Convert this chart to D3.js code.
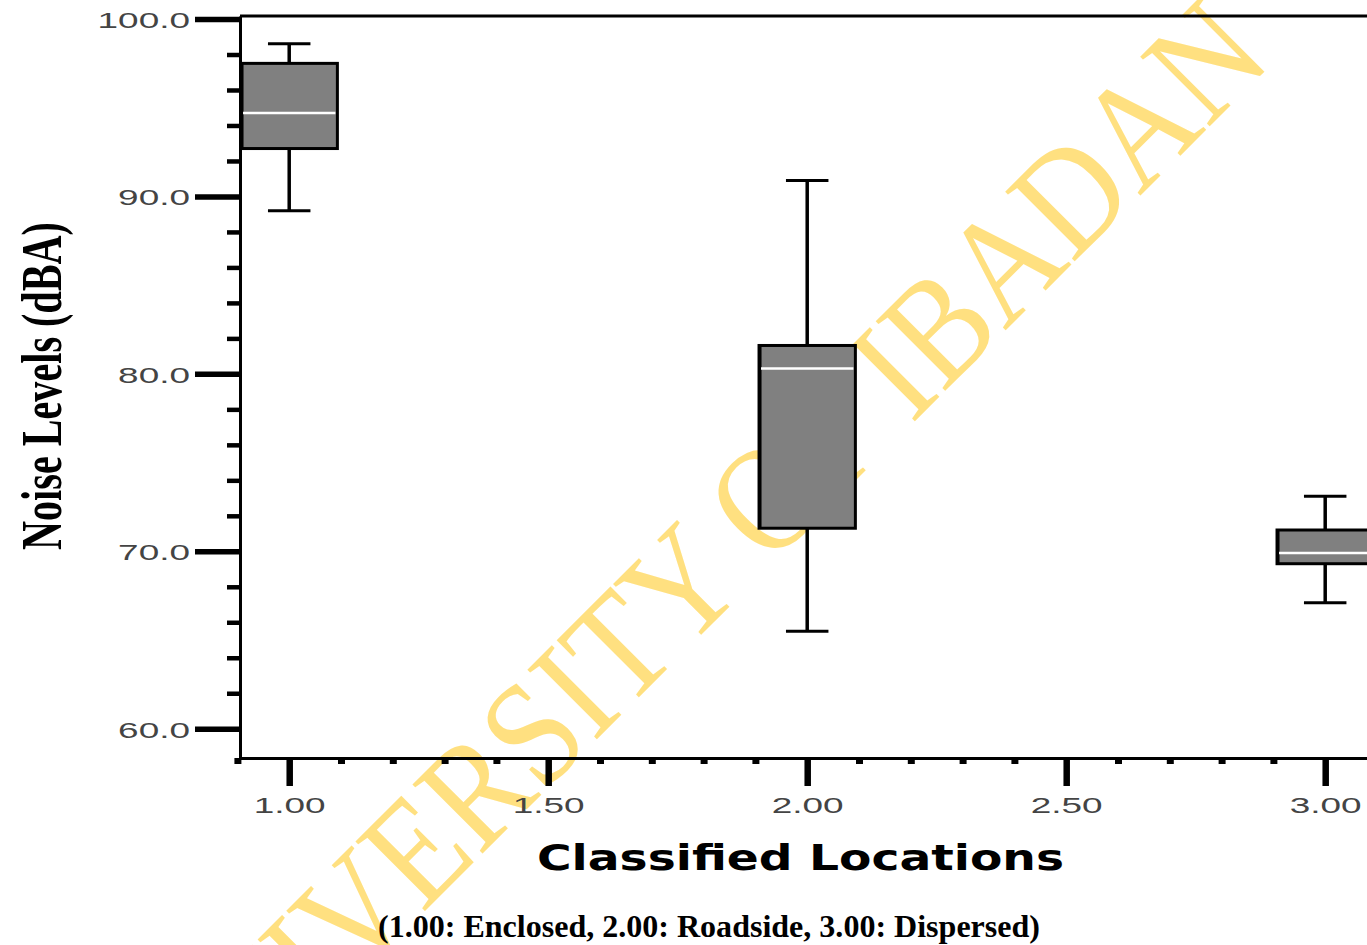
<!DOCTYPE html>
<html>
<head>
<meta charset="utf-8">
<script src="https://cdn.jsdelivr.net/npm/d3@7"></script>
<style>
  html, body { margin: 0; padding: 0; background: #fff; overflow: hidden; }
  svg { display: block; }
</style>
</head>
<body>
<svg id="chart" width="1367" height="945"></svg>
<script>
// Noise level distribution per classified location (box-and-whisker summary)
const categories = [1, 2, 3];
const categoryNames = ["Enclosed", "Roadside", "Dispersed"];
const whiskerLow  = [89.2, 65.5, 67.1];
const q1          = [92.7, 71.3, 69.3];
const median      = [94.7, 80.3, 69.9];
const q3          = [97.5, 81.6, 71.2];
const whiskerHigh = [98.6, 90.9, 73.1];

const yMajorTicks = [60, 70, 80, 90, 100];
const yMinorTicks = [62, 64, 66, 68, 72, 74, 76, 78, 82, 84, 86, 88, 92, 94, 96, 98];
const xMajorTicks = [1.0, 1.5, 2.0, 2.5, 3.0];
const xMinorTicks = [0.9, 1.1, 1.2, 1.3, 1.4, 1.6, 1.7, 1.8, 1.9, 2.1, 2.2, 2.3, 2.4, 2.6, 2.7, 2.8, 2.9];

const svg = d3.select("#chart");

const x = d3.scaleLinear().domain([0.905, 3.1]).range([240, 1377]);
const y = d3.scaleLinear().domain([58.35, 100.17]).range([758, 16]);

// Watermark, underneath everything else
svg.append("text")
  .attr("transform", "translate(189,1147) rotate(-45) scale(0.88,1)")
  .attr("font-family", "'Liberation Serif', 'Times New Roman', serif")
  .attr("font-size", 150)
  .attr("fill", "#FFE080")
  .text("UNIVERSITY OF IBADAN");

// Boxes
const boxHalf = 0.093;
const capHalf = 0.041;
const rows = categories.map((c, i) => ({
  c, name: categoryNames[i],
  lo: whiskerLow[i], q1: q1[i], med: median[i], q3: q3[i], hi: whiskerHigh[i]
}));

const g = svg.append("g").attr("class", "boxes");
const box = g.selectAll("g.box").data(rows).join("g").attr("class", "box");

// whisker stems
box.append("line")
  .attr("x1", d => x(d.c)).attr("x2", d => x(d.c))
  .attr("y1", d => y(d.hi)).attr("y2", d => y(d.q3))
  .attr("stroke", "#000").attr("stroke-width", 3.5);
box.append("line")
  .attr("x1", d => x(d.c)).attr("x2", d => x(d.c))
  .attr("y1", d => y(d.q1)).attr("y2", d => y(d.lo))
  .attr("stroke", "#000").attr("stroke-width", 3.5);
// caps
box.append("line")
  .attr("x1", d => x(d.c - capHalf)).attr("x2", d => x(d.c + capHalf))
  .attr("y1", d => y(d.hi)).attr("y2", d => y(d.hi))
  .attr("stroke", "#000").attr("stroke-width", 3);
box.append("line")
  .attr("x1", d => x(d.c - capHalf)).attr("x2", d => x(d.c + capHalf))
  .attr("y1", d => y(d.lo)).attr("y2", d => y(d.lo))
  .attr("stroke", "#000").attr("stroke-width", 3);
// box body
box.append("rect")
  .attr("x", d => x(d.c - boxHalf))
  .attr("width", d => x(d.c + boxHalf) - x(d.c - boxHalf))
  .attr("y", d => y(d.q3))
  .attr("height", d => y(d.q1) - y(d.q3))
  .attr("fill", "#808080")
  .attr("stroke", "#000").attr("stroke-width", 3);
// heavier left edge of each box
box.append("line")
  .attr("x1", d => x(d.c - boxHalf) + 1).attr("x2", d => x(d.c - boxHalf) + 1)
  .attr("y1", d => y(d.q3)).attr("y2", d => y(d.q1))
  .attr("stroke", "#000").attr("stroke-width", 3);
// median
box.append("line")
  .attr("x1", d => x(d.c - boxHalf) + 2).attr("x2", d => x(d.c + boxHalf) - 2)
  .attr("y1", d => y(d.med)).attr("y2", d => y(d.med))
  .attr("stroke", "#fff").attr("stroke-width", 2.5);

// Frame top edge
svg.append("line")
  .attr("x1", x.range()[0]).attr("x2", x.range()[1])
  .attr("y1", y.range()[1]).attr("y2", y.range()[1])
  .attr("stroke", "#000").attr("stroke-width", 3);

const labelScale = 1.68;
const tickFont = "'Liberation Sans', Arial, sans-serif";

// Y axis: minor ticks
svg.append("g")
  .attr("transform", `translate(${x.range()[0]},0)`)
  .call(d3.axisLeft(y).tickValues(yMinorTicks).tickSize(13).tickSizeOuter(0).tickFormat(""))
  .call(s => s.select(".domain").remove())
  .call(s => s.selectAll(".tick line").attr("stroke", "#000").attr("stroke-width", 4.5));

// Y axis: major ticks and labels
svg.append("g")
  .attr("transform", `translate(${x.range()[0]},0)`)
  .call(d3.axisLeft(y).tickValues(yMajorTicks).tickSize(45).tickSizeOuter(0).tickFormat(d3.format(".1f")))
  .call(s => s.select(".domain").attr("stroke", "#000").attr("stroke-width", 3))
  .call(s => s.selectAll(".tick line").attr("stroke", "#000").attr("stroke-width", 5.5))
  .call(s => s.selectAll(".tick text")
    .attr("font-family", tickFont).attr("font-size", 22).attr("fill", "#444")
    .attr("x", -50 / labelScale).attr("dy", "0.38em")
    .attr("transform", `scale(${labelScale},1)`));

// X axis: minor ticks
svg.append("g")
  .attr("transform", `translate(0,${y.range()[0]})`)
  .call(d3.axisBottom(x).tickValues(xMinorTicks).tickSize(6).tickSizeOuter(0).tickFormat(""))
  .call(s => s.select(".domain").remove())
  .call(s => s.selectAll(".tick line").attr("stroke", "#000").attr("stroke-width", 7));

// X axis: major ticks and labels
svg.append("g")
  .attr("transform", `translate(0,${y.range()[0]})`)
  .call(d3.axisBottom(x).tickValues(xMajorTicks).tickSize(28).tickSizeOuter(0).tickFormat(d3.format(".2f")))
  .call(s => s.select(".domain").attr("stroke", "#000").attr("stroke-width", 3))
  .call(s => s.selectAll(".tick line").attr("stroke", "#000").attr("stroke-width", 6.5))
  .call(s => s.selectAll(".tick text")
    .attr("font-family", tickFont).attr("font-size", 22).attr("fill", "#444")
    .attr("y", 55).attr("dy", 0)
    .attr("transform", `scale(${labelScale},1)`));

// Axis titles
svg.append("text")
  .attr("x", 537).attr("y", 870)
  .attr("font-family", "'DejaVu Sans', Verdana, sans-serif")
  .attr("font-weight", "bold").attr("font-size", 35)
  .attr("textLength", 527).attr("lengthAdjust", "spacingAndGlyphs")
  .attr("fill", "#000")
  .text("Classified Locations");

svg.append("text")
  .attr("x", 378).attr("y", 937)
  .attr("font-family", "'Liberation Serif', 'Times New Roman', serif")
  .attr("font-weight", "bold").attr("font-size", 32)
  .attr("textLength", 662).attr("lengthAdjust", "spacingAndGlyphs")
  .attr("fill", "#000")
  .text("(" + categories.map((c, i) => d3.format(".2f")(c) + ": " + categoryNames[i]).join(", ") + ")");

svg.append("text")
  .attr("transform", "translate(61,386) rotate(-90)")
  .attr("text-anchor", "middle")
  .attr("font-family", "'Liberation Serif', 'Times New Roman', serif")
  .attr("font-weight", "bold").attr("font-size", 58)
  .attr("textLength", 328).attr("lengthAdjust", "spacingAndGlyphs")
  .attr("fill", "#000")
  .text("Noise Levels (dBA)");
</script>
</body>
</html>
